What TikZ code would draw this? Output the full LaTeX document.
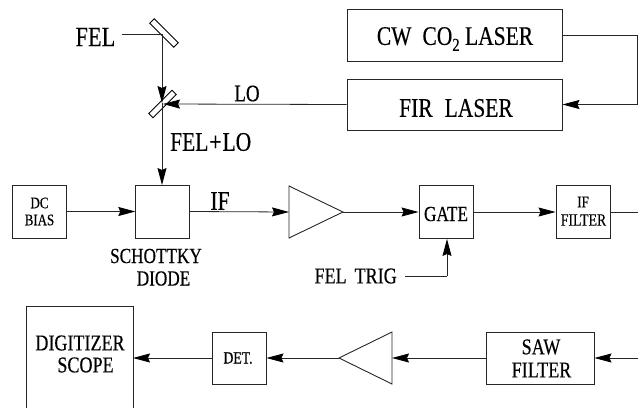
\documentclass[tikz,border=0pt]{standalone}
\usepackage{fontspec}
\setmainfont[FakeStretch=0.8,FakeBold=0.35,Scale=1.075]{Liberation Serif}
\usetikzlibrary{arrows.meta,positioning}
\tikzset{
  x=1pt,y=-1pt,
  box/.style={draw=black!85,line width=0.9pt,inner sep=0pt,align=center,minimum width=#1},
  box/.default=54pt,
  wire/.style={draw=black!85,line width=0.8pt},
  arr/.style={wire,-{Stealth[length=17pt,width=9pt,inset=2pt,color=black]}},
  mirror/.style={draw=black,line width=0.9pt,fill=white,rotate=#1,minimum width=34pt,minimum height=6.5pt,inner sep=0pt},
  lab/.style={inner sep=0pt,align=center,font=\fontsize{#1}{#1}\selectfont},
  lab/.default=20
}
\begin{document}
\begin{tikzpicture}
\useasboundingbox (0,0) rectangle (638,408);
% top lasers
\node[box=215pt,minimum height=52pt] (cw) at (454.5,35) {};
\node[lab=25] (cwt) at (455,39) {CW\hspace{11pt}CO\raisebox{-6pt}{\fontsize{17}{17}\selectfont 2} LASER};
\node[box=215pt,minimum height=51pt] (fir) at (454.5,104.5) {};
\node[lab=25] (firt) at (456,108) {FIR\hspace{12pt}LASER};
\coordinate (re) at (637,35);
\coordinate (rf) at (637,104.5);
\draw[wire] (cw.east) -- (re) -- (rf);
\draw[arr] (rf) -- (fir.east);
% optics
\node[mirror=-45] (m1) at (164,33) {};
\node[mirror=45,minimum width=33pt,minimum height=6pt] (m2) at (162.5,104) {};
\node[lab=26,anchor=east] (fel) at (115.5,37) {FEL};
\coordinate (felS) at (122,34);
\coordinate (m1c) at (162,34);
\draw[wire] (felS) -- (m1c);
\node[box,minimum height=53pt] (sd) at (162.75,211.5) {};
\coordinate (m2c) at (162,103);
\draw[arr] (m1c) -- (m2c);
\coordinate (m2r) at (163,104);
\draw[arr] (fir.west) -- (m2r);
\draw[arr] (m2c) -- (162,185);
\node[lab=22] (lo) at (247,93.5) {LO};
\node[lab=25,anchor=west] (fl) at (170,142) {FEL\kern1pt+\kern1ptLO};
% second row
\node[box,minimum height=53pt] (dc) at (39.25,211.5) {};
\node[lab=15] (dct) at (39.5,203) {DC};
\node[lab=15] (bias) at (39.5,220) {BIAS};
\draw[arr] (dc.east) -- (sd.west);
\node[lab=25] (if) at (220,201) {IF};
\node[lab=20] (st) at (156,256) {SCHOTTKY};
\node[lab=20] (dd) at (163.5,278.5) {DIODE};
\coordinate (a1b) at (289,212);
\coordinate (a1t) at (343,212);
\draw[line width=0.9pt,draw=black!85] (289,186) -- (a1t) -- (289,238) -- cycle;
\draw[arr] (sd.east) -- (a1b);
\node[box,minimum height=53pt] (gate) at (446,212) {};
\node[lab=20] (gatet) at (446,214) {GATE};
\draw[arr] (a1t) -- (gate.west);
\node[box,minimum height=53pt] (iff) at (583,212) {};
\node[lab=15] (ift) at (583,202) {IF};
\node[lab=16] (flt) at (583.5,220) {FILTER};
\draw[arr] (gate.east) -- (iff.west);
\coordinate (ifr) at (638,212);
\draw[wire] (iff.east) -- (ifr);
\node[lab=21,anchor=east] (trig) at (397,276) {FEL\hspace{8pt}TRIG};
\coordinate (tc) at (447,276);
\coordinate (ts) at (405,276);
\draw[wire] (ts) -- (tc);
\draw[arr] (tc) -- (gate.south -| tc);
% bottom row
\coordinate (srr) at (638,358);
\node[box=108pt,minimum height=52pt] (saw) at (540,358) {};
\node[lab=21] (sawt) at (541,347) {SAW};
\node[lab=21] (sawf) at (541.5,370) {FILTER};
\draw[arr] (srr) -- (saw.east);
\coordinate (a2b) at (392,358);
\coordinate (a2t) at (339,358);
\draw[line width=0.9pt,draw=black!85] (392,332) -- (a2t) -- (392,384) -- cycle;
\draw[arr] (saw.west) -- (a2b);
\node[box,minimum height=52pt] (det) at (239,358) {};
\node[lab=16] (dett) at (238,358) {DET.};
\draw[line width=0.9pt,draw=black!85] (26,408) -- (26,306) -- (133,306) -- (133,408);
\coordinate (dg) at (133,358);
\draw[arr] (det.west) -- (dg);
\draw[arr] (a2t) -- (det.east);
\node[lab=21] (dz) at (80,343) {DIGITIZER};
\node[lab=21] (sc) at (85.5,365) {SCOPE};
\end{tikzpicture}
\end{document}
